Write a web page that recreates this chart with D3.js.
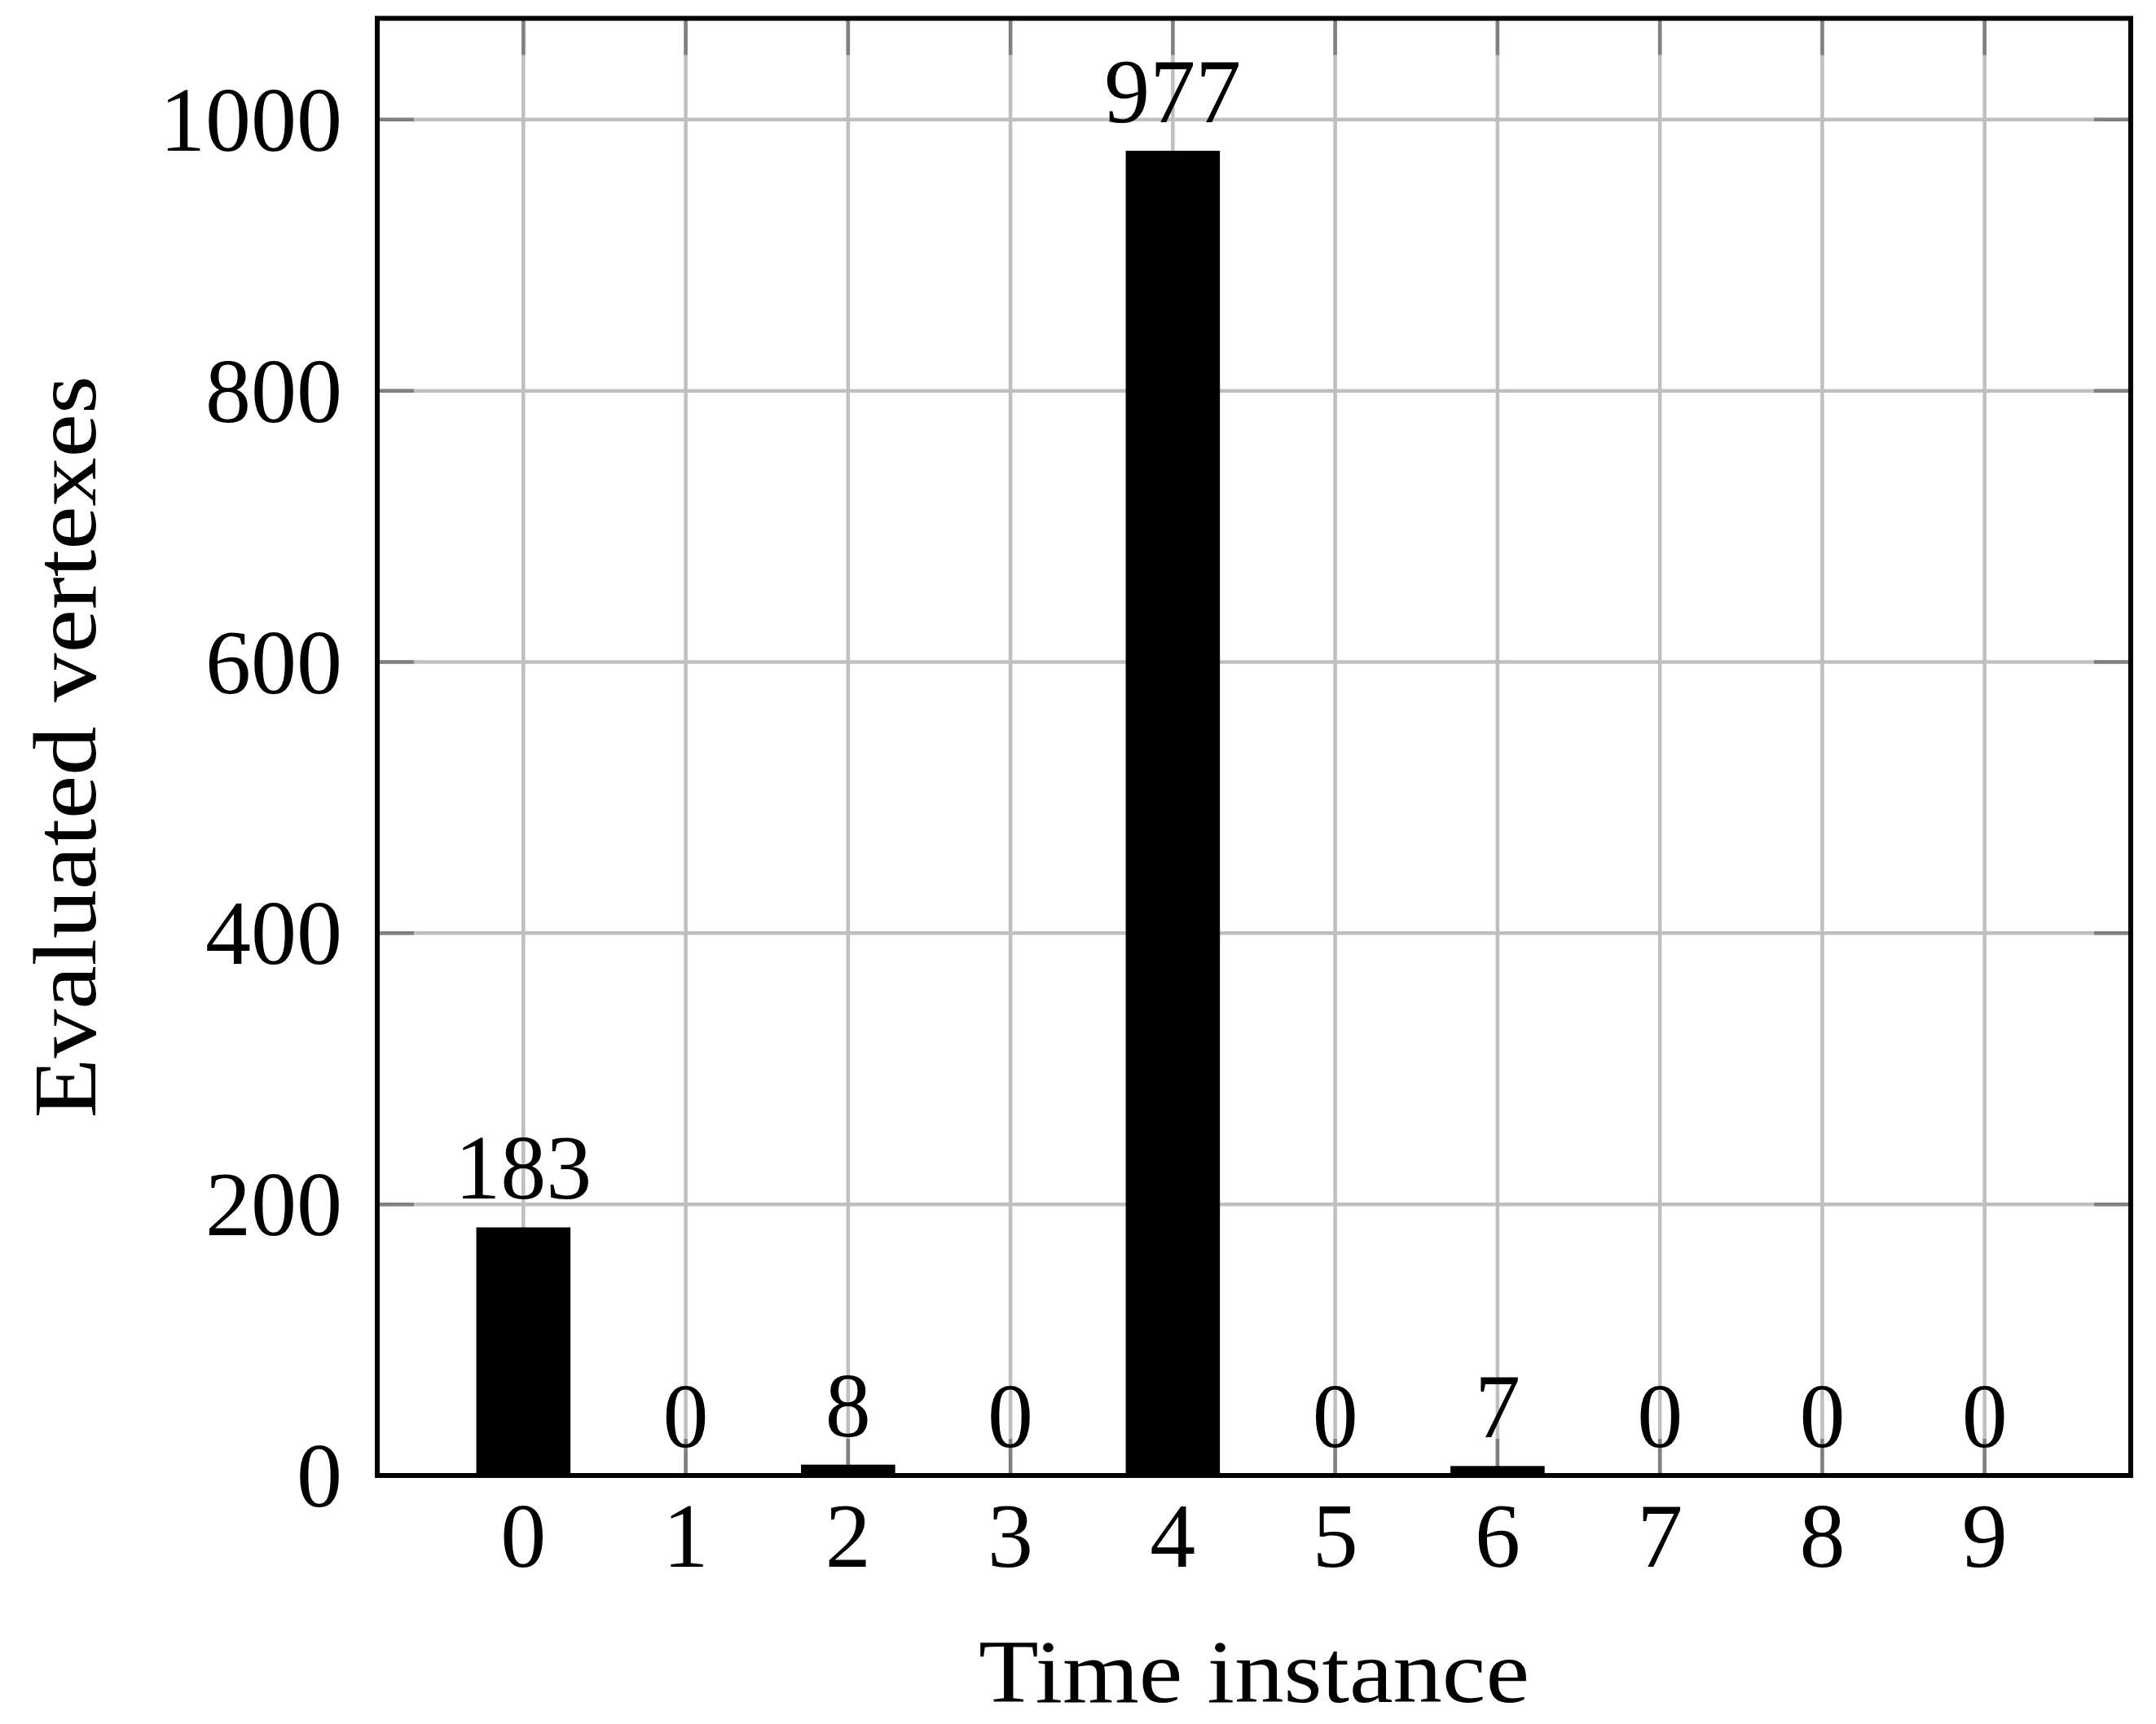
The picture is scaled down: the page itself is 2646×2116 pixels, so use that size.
<!DOCTYPE html>
<html><head><meta charset="utf-8">
<script src="https://cdn.jsdelivr.net/npm/d3@7"></script>
<style>body{margin:0;background:#fff}svg{display:block}text{font-family:"Liberation Serif","Times New Roman",serif;fill:#000}</style>
</head><body>
<script>
const categories = [0,1,2,3,4,5,6,7,8,9];
const values = [183,0,8,0,977,0,7,0,0,0];
const yTicks = [0,200,400,600,800,1000];
const xLabel = "Time instance";
const yLabel = "Evaluated vertexes";

const W = 2646, H = 2116;
const m = {left:463, right:W-2615, top:22.5, bottom:H-1811};
const svg = d3.select("body").append("svg").attr("width",W).attr("height",H);

const x = d3.scaleLinear().domain([-0.9, 9.9]).range([m.left, W-m.right]);
const y = d3.scaleLinear().domain([0, 977*1.1]).range([H-m.bottom, m.top]);

const grid = svg.append("g");
grid.selectAll("line.vx").data(categories).join("line")
  .attr("x1",d=>x(d)).attr("x2",d=>x(d)).attr("y1",y.range()[0]).attr("y2",y.range()[1])
  .attr("stroke","#bfbfbf").attr("stroke-width",4.5);
grid.selectAll("line.hy").data(yTicks).join("line")
  .attr("y1",d=>y(d)).attr("y2",d=>y(d)).attr("x1",x.range()[0]).attr("x2",x.range()[1])
  .attr("stroke","#bfbfbf").attr("stroke-width",4.5);

const tl = 45;
const ticks = svg.append("g").attr("stroke","#808080").attr("stroke-width",4.5);
categories.forEach(d=>{
  ticks.append("line").attr("x1",x(d)).attr("x2",x(d)).attr("y1",y.range()[0]).attr("y2",y.range()[0]-tl);
  ticks.append("line").attr("x1",x(d)).attr("x2",x(d)).attr("y1",y.range()[1]).attr("y2",y.range()[1]+tl);
});
yTicks.forEach(d=>{
  ticks.append("line").attr("y1",y(d)).attr("y2",y(d)).attr("x1",x.range()[0]).attr("x2",x.range()[0]+tl);
  ticks.append("line").attr("y1",y(d)).attr("y2",y(d)).attr("x1",x.range()[1]).attr("x2",x.range()[1]-tl);
});

const bw = 0.29;
svg.append("g").selectAll("rect").data(categories).join("rect")
  .attr("x",(d)=>x(d-bw)).attr("width",x(bw)-x(-bw))
  .attr("y",(d,i)=>y(values[i])).attr("height",(d,i)=>y(0)-y(values[i]))
  .attr("fill","#000");

svg.append("g").selectAll("text").data(categories).join("text")
  .attr("x",d=>x(d)).attr("y",(d,i)=>y(values[i])-35)
  .attr("text-anchor","middle").attr("font-size",112)
  .text((d,i)=>values[i]);

svg.append("rect").attr("x",x.range()[0]).attr("y",y.range()[1])
  .attr("width",x.range()[1]-x.range()[0]).attr("height",y.range()[0]-y.range()[1])
  .attr("fill","none").attr("stroke","#000").attr("stroke-width",6);

svg.append("g").selectAll("text").data(yTicks).join("text")
  .attr("x",420).attr("y",d=>y(d)).attr("dy","0.34em")
  .attr("text-anchor","end").attr("font-size",112).text(d=>d);
svg.append("g").selectAll("text").data(categories).join("text")
  .attr("x",d=>x(d)).attr("y",1923)
  .attr("text-anchor","middle").attr("font-size",112).text(d=>d);

svg.append("text").attr("x",(x.range()[0]+x.range()[1])/2).attr("y",2089)
  .attr("text-anchor","middle").attr("font-size",110)
  .attr("textLength",676).attr("lengthAdjust","spacingAndGlyphs").text(xLabel);
svg.append("text").attr("transform",`translate(117,${(y.range()[0]+y.range()[1])/2}) rotate(-90)`)
  .attr("text-anchor","middle").attr("font-size",110)
  .attr("textLength",911).attr("lengthAdjust","spacingAndGlyphs").text(yLabel);
</script>
</body></html>
